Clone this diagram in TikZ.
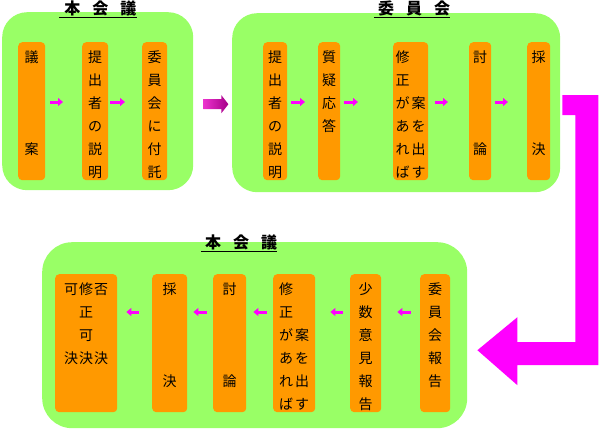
\documentclass[tikz,border=0pt]{standalone}
\usepackage{fontspec}
\newfontfamily\jp{Noto Sans CJK JP}
\usetikzlibrary{arrows.meta, calc}
\definecolor{panelgreen}{RGB}{153,255,102}
\definecolor{barorange}{RGB}{255,153,0}
\definecolor{pk}{RGB}{255,0,255}
\tikzset{
  panel/.style={fill=panelgreen, rounded corners=25pt, anchor=north west, inner sep=0pt},
  bar/.style={fill=barorange, rounded corners=4pt, anchor=north west, inner sep=0pt,
    font=\jp\fontsize{14pt}{23pt}\selectfont},
  ttl/.style={font=\jp\bfseries\fontsize{16pt}{18pt}\selectfont, inner sep=0pt, anchor=base},
  uline/.style={line width=1.2pt},
  sarr/.style={-{Triangle[length=5pt,width=8pt]}, line width=3pt, draw=pk},
  bigarr/.style={fill=pk}
}
% vertical text box, first row near the top
\newcommand{\tate}[2]{\parbox[c][138pt][t]{#1}{\centering\rule{0pt}{20pt}#2}}
\newcommand{\nic}[2]{\makebox[16pt]{#1}\makebox[16pt]{#2}}
\newcommand{\san}[3]{\makebox[15pt]{#1}\makebox[15pt]{#2}\makebox[15pt]{#3}}

\begin{document}
\begin{tikzpicture}[x=1pt, y=-1pt]
\useasboundingbox (0,0) rectangle (600,431);
\coordinate (ya) at (0,102);
\coordinate (yb) at (0,312);

% panels
\node[panel, minimum width=191pt, minimum height=178pt] (honA) at (2,12) {};
\node[panel, minimum width=328pt, minimum height=179pt] (iin) at (232,13) {};
\node[panel, minimum width=425pt, minimum height=186pt, rounded corners=30pt] (honB) at (42,242) {};

% titles
\node[ttl] (t1) at (98,14) {\hspace{5pt}本\hspace{12pt}会\hspace{12pt}議\hspace{5pt}};
\node[ttl] (t2) at (412,14) {\hspace{4pt}委\hspace{12pt}員\hspace{12pt}会\hspace{4pt}};
\node[ttl] (t3) at (239,248) {\hspace{4pt}本\hspace{12pt}会\hspace{12pt}議\hspace{4pt}};
\foreach \t in {t1,t2,t3}
  \draw[uline] ([yshift=-1.5pt]\t.south west) -- ([yshift=-1.5pt]\t.south east);

% top left
\node[bar] (giAn) at (18,42) {\tate{27pt}{議\\[69pt]案}};
\node[bar] (setsuA) at (82,42) {\tate{26pt}{提\\出\\者\\の\\説\\明}};
\node[bar] (futaku) at (142,42) {\tate{25pt}{委\\員\\会\\に\\付\\託}};

% top right
\node[bar] (setsuB) at (263,42) {\tate{24pt}{提\\出\\者\\の\\説\\明}};
\node[bar] (shitsugi) at (318,42) {\tate{22pt}{質\\疑\\応\\答}};
\node[bar] (shuseiA) at (393,42)
  {\tate{35pt}{\nic{修}{}\\\nic{正}{}\\\nic{が}{案}\\\nic{あ}{を}\\\nic{れ}{出}\\\nic{ば}{す}}};
\node[bar] (toronA) at (469,42) {\tate{22pt}{討\\[69pt]論}};
\node[bar] (saiketsuA) at (527,42) {\tate{23pt}{採\\[69pt]決}};

% bottom
\node[bar] (kekka) at (55,274) {\tate{62pt}{\san{可}{修}{否}\\正\\可\\\san{決}{決}{決}}};
\node[bar] (saiketsuB) at (152,274) {\tate{35pt}{採\\[69pt]決}};
\node[bar] (toronB) at (213,274) {\tate{33pt}{討\\[69pt]論}};
\node[bar] (shuseiB) at (273,274)
  {\tate{42pt}{\nic{修}{}\\\nic{正}{}\\\nic{が}{案}\\\nic{あ}{を}\\\nic{れ}{出}\\\nic{ば}{す}}};
\node[bar] (shosu) at (350,274) {\tate{31pt}{少\\数\\意\\見\\報\\告}};
\node[bar] (hokoku) at (420,274) {\tate{30pt}{委\\員\\会\\報\\告}};

% small arrows
\draw[sarr, shorten <=5pt, shorten >=19pt] (giAn.east |- ya) -- (setsuA.west |- ya);
\draw[sarr, shorten <=2pt, shorten >=17pt] (setsuA.east |- ya) -- (futaku.west |- ya);
\draw[sarr, shorten <=4pt, shorten >=13pt] (setsuB.east |- ya) -- (shitsugi.west |- ya);
\draw[sarr, shorten <=4pt, shorten >=35pt] (shitsugi.east |- ya) -- (shuseiA.west |- ya);
\draw[sarr, shorten <=7pt, shorten >=21pt] (shuseiA.east |- ya) -- (toronA.west |- ya);
\draw[sarr, shorten <=4pt, shorten >=19pt] (toronA.east |- ya) -- (saiketsuA.west |- ya);
\draw[sarr, shorten <=9pt, shorten >=16pt] (hokoku.west |- yb) -- (shosu.east |- yb);
\draw[sarr, shorten <=7pt, shorten >=15pt] (shosu.west |- yb) -- (shuseiB.east |- yb);
\draw[sarr, shorten <=6pt, shorten >=7pt] (shuseiB.west |- yb) -- (toronB.east |- yb);
\draw[sarr, shorten <=6pt, shorten >=6pt] (toronB.west |- yb) -- (saiketsuB.east |- yb);
\draw[sarr, shorten <=13pt, shorten >=9pt] (saiketsuB.west |- yb) -- (kekka.east |- yb);

% big arrows
\shade[left color={rgb,255:red,235;green,50;blue,205}, right color={rgb,255:red,165;green,0;blue,135}]
  ($(honA.east)+(10,-2)$) -- ++(18,0) -- ++(0,-4) -- ++(7,9) -- ++(-7,9) -- ++(0,-4) -- ++(-18,0) -- cycle;
\fill[bigarr] ($(iin.east)+(2,-7.5)$) -- ++(36,0) -- ++(0,270) -- ++(-81,0) -- ++(0,20)
  -- ++(-40,-35) -- ++(40,-33) -- ++(0,25) -- ++(58,0) -- ++(0,-227) -- ++(-13,0) -- cycle;
\end{tikzpicture}
\end{document}
